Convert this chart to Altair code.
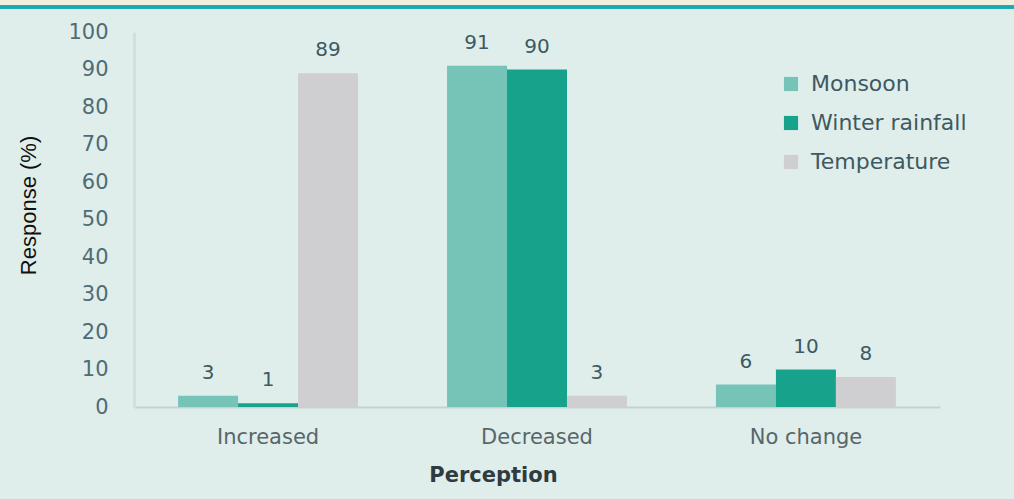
import altair as alt
import pandas as pd

# Survey responses (%) by perception category and climate variable
perceptions = ["Increased", "Decreased", "No change"]
series = ["Monsoon", "Winter rainfall", "Temperature"]
monsoon = [3, 91, 6]
winter_rainfall = [1, 90, 10]
temperature = [89, 3, 8]

colors = ["#76c4b8", "#17a38b", "#cfcfd2"]

rows = []
for name, vals in zip(series, [monsoon, winter_rainfall, temperature]):
    for p, v in zip(perceptions, vals):
        rows.append({"Perception": p, "Series": name, "Value": v})
df = pd.DataFrame(rows)

FONT = "DejaVu Sans"

x = alt.X(
    "Perception:N",
    sort=perceptions,
    scale=alt.Scale(paddingInner=0.331, paddingOuter=0.164),
    axis=alt.Axis(
        title="Perception",
        titleFont=FONT,
        titleFontSize=21,
        titleFontWeight="bold",
        titleColor="#2f3b3f",
        titleX=359,
        titleY=68,
        titleBaseline="middle",
        labelAngle=0,
        labelFont=FONT,
        labelFontSize=21,
        labelColor="#58666a",
        labelPadding=19,
        labelBaseline="top",
        ticks=False,
        domainColor="#c6d1d1",
        domainWidth=2,
    ),
)
x_off = alt.XOffset("Series:N", sort=series, scale=alt.Scale(paddingInner=0, paddingOuter=0))
y = alt.Y(
    "Value:Q",
    scale=alt.Scale(domain=[0, 100], nice=False),
    axis=alt.Axis(
        title="Response (%)",
        titleFont="Liberation Sans",
        titleFontSize=22,
        titleFontWeight="normal",
        titleColor="#111111",
        titleX=-106,
        titleY=173,
        titleAlign="center",
        titleBaseline="middle",
        values=list(range(0, 101, 10)),
        labelFont=FONT,
        labelFontSize=21,
        labelColor="#4f6c74",
        labelPadding=26,
        ticks=False,
        grid=False,
        domainColor="#d3dfdf",
        domainWidth=3,
    ),
)
color = alt.Color(
    "Series:N",
    sort=series,
    scale=alt.Scale(domain=series, range=colors),
    legend=alt.Legend(
        title=None,
        orient="none",
        legendX=646,
        legendY=41,
        symbolType="square",
        symbolSize=200,
        symbolStrokeWidth=0,
        labelFont=FONT,
        labelFontSize=22,
        labelColor="#3f5960",
        rowPadding=17,
        labelOffset=9,
    ),
)

bars = alt.Chart(df).mark_bar(size=60).encode(x=x, xOffset=x_off, y=y, color=color)

labels = alt.Chart(df).mark_text(
    baseline="bottom", dy=-13, font=FONT, fontSize=20, color="#3b5a63"
).encode(x=x, xOffset=x_off, y=y, text="Value:Q")

# thin teal strip across the top of the figure
top_band = alt.Chart(df).mark_rect(color="#f2efdf").encode(
    x=alt.value(-134), x2=alt.value(880), y=alt.value(-32), y2=alt.value(-27)
)
top_line = alt.Chart(df).mark_rule(color="#19a9b1", strokeWidth=2.5).encode(
    x=alt.value(-134), x2=alt.value(880), y=alt.value(-25)
)

chart = (
    alt.layer(top_band, top_line, bars, labels)
    .properties(
        width=806,
        height=375,
        padding={"left": 134, "top": 32, "right": 74, "bottom": 92},
        autosize=alt.AutoSizeParams(type="none"),
        background="#dfeeeb",
    )
    .configure_view(stroke=None)
)

chart.save("out.html", embed_options={"renderer": "svg", "actions": False})
